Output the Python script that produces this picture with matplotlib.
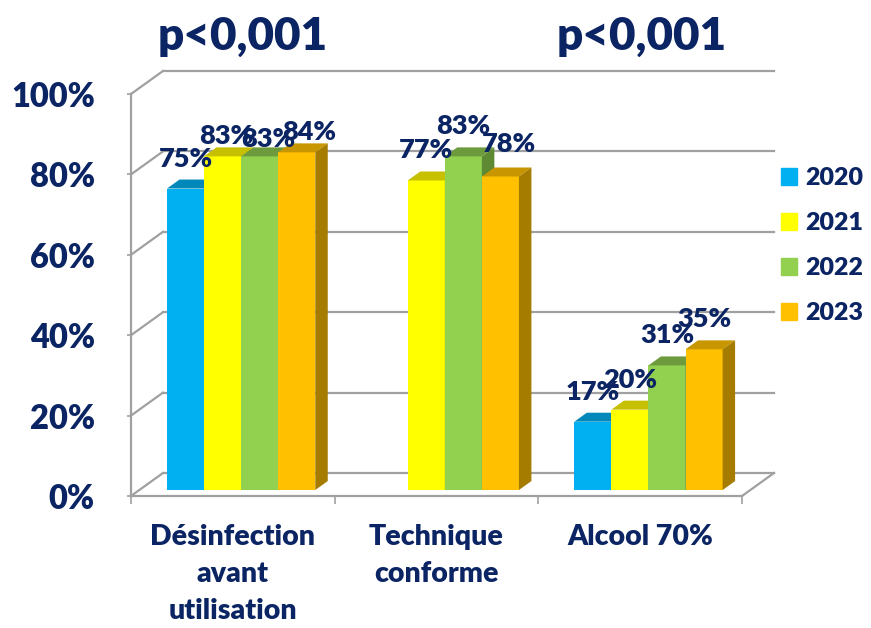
import matplotlib
matplotlib.use("Agg")
import matplotlib.pyplot as plt
from matplotlib.patches import Patch
import numpy as np

plt.rcParams["font.family"] = ["Lato", "DejaVu Sans"]
plt.rcParams["font.weight"] = "heavy"

# Chart data
CATEGORIES = ["Désinfection\navant\nutilisation", "Technique\nconforme", "Alcool 70%"]
YEARS = ["2020", "2021", "2022", "2023"]
V2020 = [75, np.nan, 17]
V2021 = [83, 77, 20]
V2022 = [83, 83, 31]
V2023 = [84, 78, 35]
PVALUES = ["p<0,001", "p<0,001"]
YTICKS = [0, 20, 40, 60, 80, 100]

SERIES = [V2020, V2021, V2022, V2023]

# front / top / side shades for each year
FRONT = ["#00B0F0", "#FFFF00", "#92D050", "#FFC000"]
TOP = ["#0088BA", "#C6C000", "#6C9A3C", "#C89600"]
SIDE = ["#00789F", "#A8A400", "#5E8A33", "#A67C00"]
NAVY = "#0B2463"
GRID = "#A0A0A0"

# pseudo-3D geometry in data units (x: categories, y: percent)
DX, DY = 0.157, 5.72          # full wall depth
BAR_W = 0.182
Z0, ZD = 0.26, 0.39           # bar start depth, bar depth (fractions of wall depth)

# per-label nudges in pixels (x, y) where labels collide
NUDGE = {(0, 1): (4, -10), (0, 2): (9, -13), (0, 3): (12, -10), (1, 3): (9, 2)}

W, H = 871, 628
fig = plt.figure(figsize=(W / 100, H / 100), dpi=100)
ax = fig.add_axes([131 / W, (H - 496) / H, (742 - 131) / W, (496 - 94) / H])
ax.set_xlim(0, 3)
ax.set_ylim(0, 100)

# walls and floor
for g in YTICKS:
    ax.plot([DX, 3 + DX], [g + DY, g + DY], color=GRID, lw=1.6, clip_on=False, zorder=0.5)
    ax.plot([0, DX], [g, g + DY], color=GRID, lw=1.6, clip_on=False, zorder=0.5)
ax.plot([3, 3 + DX], [0, DY], color=GRID, lw=1.6, clip_on=False, zorder=0.5)

# bars
for i in range(len(CATEGORIES)):
    for j, vals in enumerate(SERIES):
        v = vals[i]
        if np.isnan(v):
            continue
        z = 2 + i + j * 0.1
        x0 = i + 0.5 + (j - 2) * BAR_W + Z0 * DX
        base = Z0 * DY
        x1, y1 = x0 + BAR_W, base + v
        ax.bar(x0, v, width=BAR_W, bottom=base, align="edge", color=FRONT[j],
               zorder=z, clip_on=False)
        ax.fill([x0, x1, x1 + ZD * DX, x0 + ZD * DX],
                [y1, y1, y1 + ZD * DY, y1 + ZD * DY],
                color=TOP[j], zorder=z, clip_on=False, lw=0)
        ax.fill([x1, x1 + ZD * DX, x1 + ZD * DX, x1],
                [base, base + ZD * DY, y1 + ZD * DY, y1],
                color=SIDE[j], zorder=z, clip_on=False, lw=0)
        nx, ny = NUDGE.get((i, j), (0, 0))
        ax.annotate(f"{v:.0f}%", xy=(x0 + BAR_W / 2, y1),
                    xytext=(nx * 0.72, (22 + ny) * 0.72), textcoords="offset points",
                    ha="center", va="baseline", fontsize=19.5, color=NAVY,
                    zorder=10, annotation_clip=False)

# axes
for side in ("top", "right"):
    ax.spines[side].set_visible(False)
for side in ("left", "bottom"):
    ax.spines[side].set_color(GRID)
    ax.spines[side].set_linewidth(1.6)
ax.set_facecolor("none")

ax.set_yticks(YTICKS)
ax.set_yticklabels([f"{t}%" for t in YTICKS])
ax.tick_params(axis="y", length=3, width=1.2, color=GRID, pad=23,
               labelsize=23.5, labelcolor=NAVY)

ax.set_xticks([0.5, 1.5, 2.5])
ax.set_xticklabels(CATEGORIES, linespacing=1.52)
ax.set_xticks([0, 1, 2, 3], minor=True)
ax.tick_params(axis="x", which="major", length=0, pad=20, labelsize=20.5, labelcolor=NAVY)
ax.tick_params(axis="x", which="minor", length=6, width=1.2, color=GRID)

# significance labels
for x, txt in zip([243, 642], PVALUES):
    fig.text(x / W, 1 - 50 / H, txt, ha="center", va="baseline", fontsize=33,
             color=NAVY)

handles = [Patch(color=c, label=y) for c, y in zip(FRONT, YEARS)]
leg = ax.legend(handles=handles, loc="upper left", bbox_to_anchor=(781 / W, 1 - 167 / H),
                bbox_transform=fig.transFigure, frameon=False, fontsize=18,
                handlelength=0.65, handleheight=0.65, handletextpad=0.3,
                labelspacing=0.92, borderaxespad=0, borderpad=0)
for t in leg.get_texts():
    t.set_color(NAVY)

fig.savefig("out.png", dpi=100)
